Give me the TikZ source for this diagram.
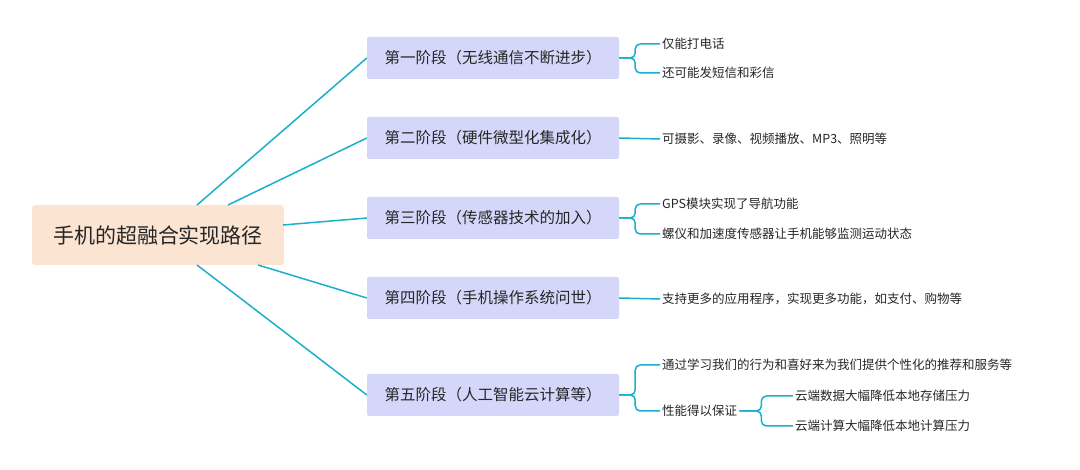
\documentclass[tikz,border=0pt]{standalone}
\usepackage{fontspec}
\setmainfont{Noto Sans CJK SC}
\definecolor{linkc}{HTML}{1AAFCB}
\definecolor{stagec}{HTML}{D5D7FA}
\definecolor{rootc}{HTML}{FCE4D2}
\tikzset{
  stage/.style={fill=stagec, rounded corners=2pt, minimum width=252pt, minimum height=42pt, font=\fontsize{15.5}{18}\selectfont, text=black!85},
  root/.style={fill=rootc, rounded corners=3pt, minimum width=252pt, minimum height=60pt, font=\fontsize{21}{24}\selectfont, text=black!85},
  leaf/.style={anchor=west, inner sep=2pt, font=\fontsize{12.5}{15}\selectfont, text=black!85},
  link/.style={draw=linkc, line width=1.5pt},
  brace/.style={draw=linkc, line width=1.5pt, rounded corners=5pt}
}
\begin{document}
\begin{tikzpicture}[x=1pt,y=-1pt]
	\useasboundingbox (0,0) rectangle (1080,470);
	% root and stages
	\node[root] (root) at (158,235) {手机的超融合实现路径};
	\node[stage] (s1) at (493,58) {第一阶段（无线通信不断进步）};
	\node[stage] (s2) at (493,138) {第二阶段（硬件微型化集成化）};
	\node[stage] (s3) at (493,218) {第三阶段（传感器技术的加入）};
	\node[stage] (s4) at (493,298) {第四阶段（手机操作系统问世）};
	\node[stage] (s5) at (493,395) {第五阶段（人工智能云计算等）};

	\draw[link] (197,205) -- (s1.west);
	\draw[link] (228,205) -- (s2.west);
	\draw[link] (283,225) -- (s3.west);
	\draw[link] (258,265) -- (s4.west);
	\draw[link] (197,265) -- (s5.west);

	% leaves
	\node[leaf] (l11) at (660,44) {仅能打电话};
	\node[leaf] (l12) at (660,73) {还可能发短信和彩信};
	\node[leaf] (l21) at (660,139) {可摄影、录像、视频播放、MP3、照明等};
	\node[leaf] (l31) at (660,204) {GPS模块实现了导航功能};
	\node[leaf] (l32) at (660,234) {螺仪和加速度传感器让手机能够监测运动状态};
	\node[leaf] (l41) at (660,299) {支持更多的应用程序，实现更多功能，如支付、购物等};
	\node[leaf] (l51) at (660,365) {通过学习我们的行为和喜好来为我们提供个性化的推荐和服务等};
	\node[leaf] (l52) at (660,411) {性能得以保证};
	\node[leaf] (l521) at (793,396) {云端数据大幅降低本地存储压力};
	\node[leaf] (l522) at (793,426) {云端计算大幅降低本地计算压力};

	\draw[brace] (s1.east) -- ++(16,0) |- (l11.west);
	\draw[brace] (s1.east) -- ++(16,0) |- (l12.west);
	\draw[link] (s2.east) -- (l21.west);
	\draw[brace] (s3.east) -- ++(16,0) |- (l31.west);
	\draw[brace] (s3.east) -- ++(16,0) |- (l32.west);
	\draw[link] (s4.east) -- (l41.west);
	\draw[brace] (s5.east) -- ++(16,0) |- (l51.west);
	\draw[brace] (s5.east) -- ++(16,0) |- (l52.west);
	\draw[brace] (l52.east) -- ++(22,0) |- (l521.west);
	\draw[brace] (l52.east) -- ++(22,0) |- (l522.west);
\end{tikzpicture}
\end{document}
